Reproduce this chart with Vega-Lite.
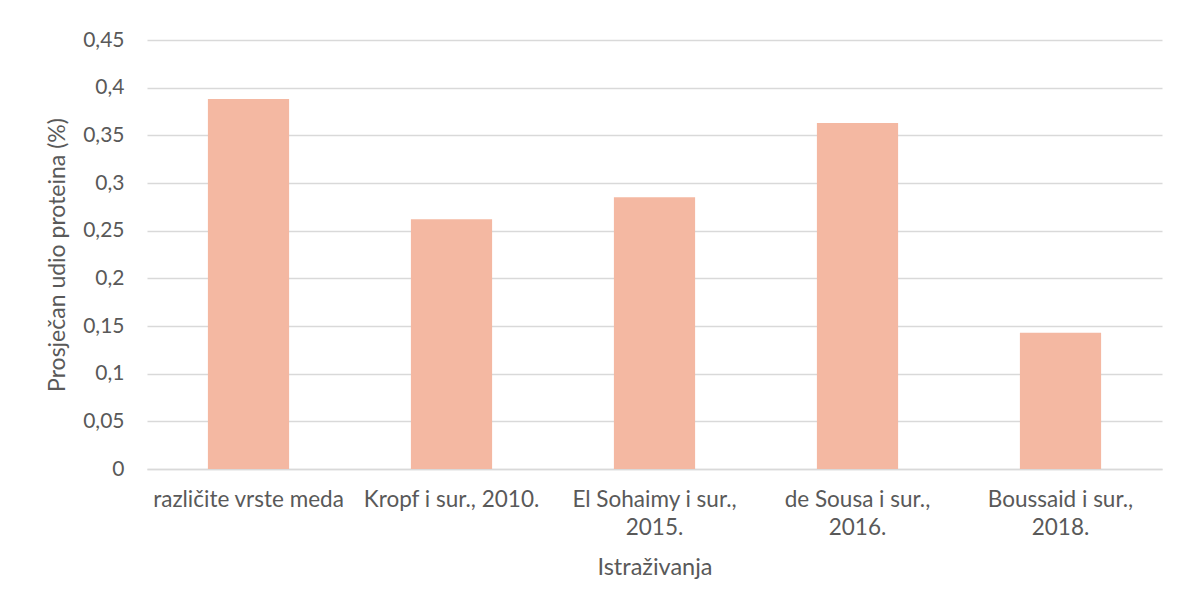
{
  "$schema": "https://vega.github.io/schema/vega-lite/v6.json",
  "width": 1015,
  "height": 429,
  "autosize": {"type": "none"},
  "padding": {"left": 147, "top": 40, "right": 17, "bottom": 141},
  "background": "white",
  "config": {
    "view": {"stroke": null},
    "font": "Lato",
    "axis": {"labelColor": "#595959", "titleColor": "#595959", "labelFont": "Lato", "titleFont": "Lato", "titleFontWeight": "normal"}
  },
  "data": {
    "values": [
      {"istrazivanje": "različite vrste meda", "udio": 0.388},
      {"istrazivanje": "Kropf i sur., 2010.", "udio": 0.262},
      {"istrazivanje": "El Sohaimy i sur., 2015.", "udio": 0.285},
      {"istrazivanje": "de Sousa i sur., 2016.", "udio": 0.363},
      {"istrazivanje": "Boussaid i sur., 2018.", "udio": 0.143}
    ]
  },
  "mark": {"type": "bar", "color": "#F4B8A2"},
  "encoding": {
    "x": {
      "field": "istrazivanje",
      "type": "nominal",
      "sort": null,
      "scale": {"paddingInner": 0.6, "paddingOuter": 0.3},
      "axis": {
        "title": "Istraživanja",
        "titleFontSize": 23.5,
        "titlePadding": 17,
        "labelFontSize": 22.5,
        "labelAngle": 0,
        "labelPadding": 19,
        "labelLineHeight": 28,
        "labelExpr": "datum.value == 'El Sohaimy i sur., 2015.' ? ['El Sohaimy i sur.,', '2015.'] : datum.value == 'de Sousa i sur., 2016.' ? ['de Sousa i sur.,', '2016.'] : datum.value == 'Boussaid i sur., 2018.' ? ['Boussaid i sur.,', '2018.'] : datum.value",
        "ticks": false,
        "domain": true,
        "domainColor": "#d9d9d9",
        "domainWidth": 1.5,
        "labelLimit": 300
      }
    },
    "y": {
      "field": "udio",
      "type": "quantitative",
      "scale": {"domain": [0, 0.45], "nice": false},
      "axis": {
        "title": "Prosječan udio proteina (%)",
        "titleFontSize": 23,
        "titlePadding": 13,
        "labelFontSize": 21,
        "labelPadding": 23,
        "values": [0, 0.05, 0.1, 0.15, 0.2, 0.25, 0.3, 0.35, 0.4, 0.45],
        "labelExpr": "replace(format(datum.value, '.2~f'), '.', ',')",
        "ticks": false,
        "domain": false,
        "grid": true,
        "gridColor": "#d9d9d9",
        "gridWidth": 1.5
      }
    }
  }
}
